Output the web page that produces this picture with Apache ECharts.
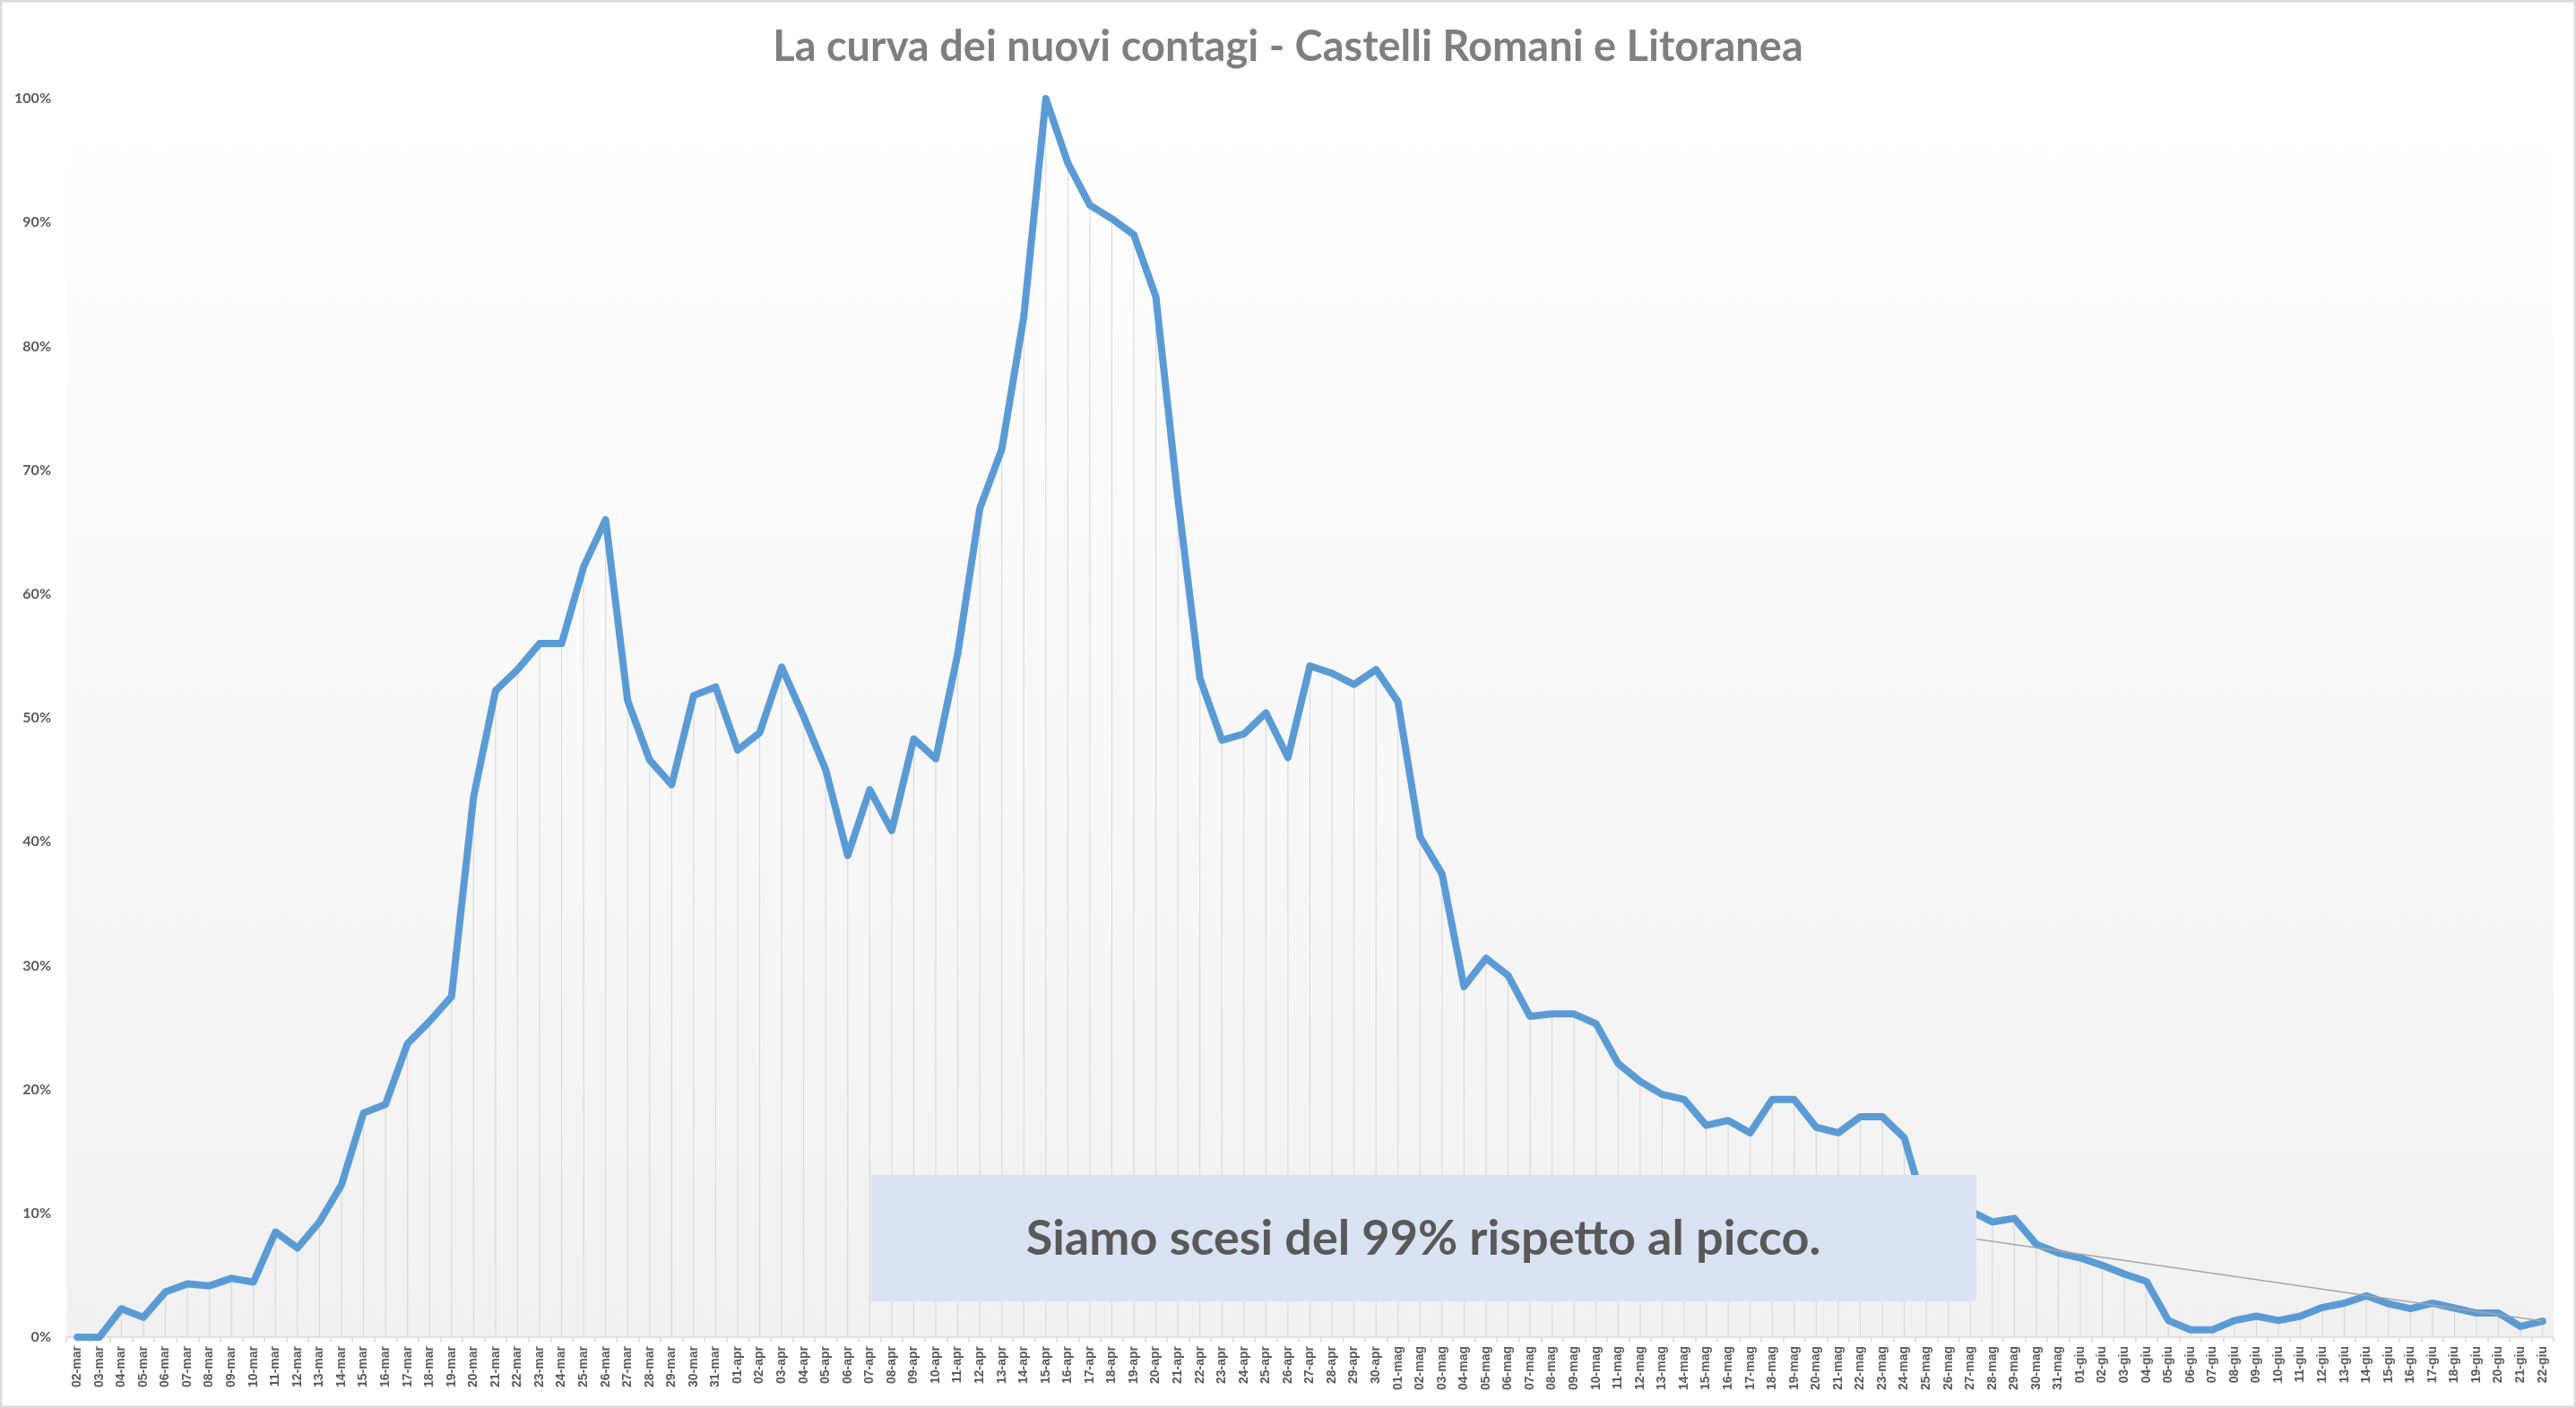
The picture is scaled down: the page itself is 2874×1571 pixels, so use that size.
<!DOCTYPE html>
<html>
<head>
<meta charset="utf-8">
<script src="https://cdn.jsdelivr.net/npm/echarts@6/dist/echarts.min.js"></script>
<style>
  html, body { margin: 0; padding: 0; background: #ffffff; }
  #chart { width: 2874px; height: 1571px; }
</style>
</head>
<body>
<div id="chart"></div>
<script>
const titleText = 'La curva dei nuovi contagi - Castelli Romani e Litoranea';
const noteText = 'Siamo scesi del 99% rispetto al picco.';

const categories = [
  '02-mar','03-mar','04-mar','05-mar','06-mar','07-mar','08-mar','09-mar','10-mar','11-mar',
  '12-mar','13-mar','14-mar','15-mar','16-mar','17-mar','18-mar','19-mar','20-mar','21-mar',
  '22-mar','23-mar','24-mar','25-mar','26-mar','27-mar','28-mar','29-mar','30-mar','31-mar',
  '01-apr','02-apr','03-apr','04-apr','05-apr','06-apr','07-apr','08-apr','09-apr','10-apr',
  '11-apr','12-apr','13-apr','14-apr','15-apr','16-apr','17-apr','18-apr','19-apr','20-apr',
  '21-apr','22-apr','23-apr','24-apr','25-apr','26-apr','27-apr','28-apr','29-apr','30-apr',
  '01-mag','02-mag','03-mag','04-mag','05-mag','06-mag','07-mag','08-mag','09-mag','10-mag',
  '11-mag','12-mag','13-mag','14-mag','15-mag','16-mag','17-mag','18-mag','19-mag','20-mag',
  '21-mag','22-mag','23-mag','24-mag','25-mag','26-mag','27-mag','28-mag','29-mag','30-mag',
  '31-mag',
  '01-giu','02-giu','03-giu','04-giu','05-giu','06-giu','07-giu','08-giu','09-giu','10-giu',
  '11-giu','12-giu','13-giu','14-giu','15-giu','16-giu','17-giu','18-giu','19-giu','20-giu',
  '21-giu','22-giu'
];

const marchValues = [0, 0, 2.3, 1.6, 3.65, 4.3, 4.15, 4.75, 4.45, 8.5,
  7.2, 9.3, 12.3, 18.1, 18.8, 23.7, 25.5, 27.5, 43.6, 52.2,
  53.9, 56.0, 56.0, 62.2, 66.0, 51.4, 46.6, 44.6, 51.8, 52.5];
const aprilValues = [47.4, 48.8, 54.1, 50.1, 45.8, 38.9, 44.2, 40.9, 48.3, 46.7,
  55.2, 66.9, 71.7, 82.4, 100, 94.8, 91.4, 90.3, 89.0, 84.0,
  67.7, 53.2, 48.2, 48.7, 50.4, 46.8, 54.2, 53.6, 52.7, 53.9];
const mayValues = [51.3, 40.4, 37.4, 28.3, 30.6, 29.2, 25.9, 26.1, 26.1, 25.3,
  22.1, 20.65, 19.6, 19.2, 17.1, 17.5, 16.5, 19.2, 19.2, 16.95,
  16.5, 17.8, 17.8, 16.1, 10.0, 10.4, 10.2, 9.3, 9.6, 7.5,
  6.8];
const juneValues = [6.4, 5.8, 5.1, 4.5, 1.35, 0.6, 0.6, 1.35, 1.7, 1.35,
  1.7, 2.4, 2.75, 3.35, 2.7, 2.3, 2.75, 2.35, 1.95, 1.95,
  0.87, 1.3];

const values = marchValues.concat(aprilValues, mayValues, juneValues);

// annotation connector: from the note box to the last point
const connectorStart = ['27-mag', 8.0];
const connectorEnd = ['22-giu', 1.3];

const yMin = 0, yMax = 100, yStep = 10;

const chart = echarts.init(document.getElementById('chart'), null, { renderer: 'canvas' });

const option = {
  backgroundColor: '#ffffff',
  animation: false,
  title: {
    text: titleText,
    left: 'center',
    top: 24,
    textStyle: {
      fontFamily: 'Lato',
      fontWeight: 'bold',
      fontSize: 47,
      color: '#7f7f7f'
    }
  },
  grid: {
    left: 74,
    right: 25,
    top: 110,
    bottom: 79,
    show: true,
    borderWidth: 0,
    backgroundColor: new echarts.graphic.LinearGradient(0, 0, 0, 1, [
      { offset: 0, color: '#ffffff' },
      { offset: 1, color: '#f1f1f1' }
    ])
  },
  xAxis: {
    type: 'category',
    data: categories,
    boundaryGap: true,
    axisLine: { show: true, lineStyle: { color: '#d9d9d9', width: 1.5 } },
    axisTick: { show: true, interval: 0, length: 6, lineStyle: { color: '#d9d9d9', width: 1.5 } },
    axisLabel: {
      interval: 0,
      rotate: 90,
      margin: 10,
      fontFamily: 'Liberation Sans',
      fontWeight: 'bold',
      fontSize: 14,
      color: '#595959'
    },
    splitLine: { show: false }
  },
  yAxis: {
    type: 'value',
    min: yMin,
    max: yMax,
    interval: yStep,
    axisLine: { show: false },
    axisTick: { show: false },
    splitLine: { show: false },
    axisLabel: {
      formatter: '{value}%',
      margin: 17,
      fontFamily: 'Lato',
      fontWeight: 'bold',
      fontSize: 16,
      color: '#595959'
    }
  },
  series: [
    {
      name: 'drop',
      type: 'bar',
      data: values,
      barWidth: 1,
      silent: true,
      itemStyle: { color: '#d6d6d6' },
      z: 1
    },
    {
      name: 'Nuovi contagi',
      type: 'line',
      data: values,
      symbol: 'none',
      z: 3,
      lineStyle: { color: '#5b9bd5', width: 8, cap: 'round', join: 'round' },
      markLine: {
        silent: true,
        symbol: 'none',
        label: { show: false },
        lineStyle: { color: '#a6a6a6', width: 1.5, type: 'solid' },
        data: [[
          { coord: connectorStart },
          { coord: connectorEnd }
        ]]
      }
    }
  ],
  graphic: [
    {
      type: 'rect',
      z: 100,
      shape: { x: 972, y: 1311, width: 1233, height: 141 },
      style: { fill: '#dae3f3' }
    },
    {
      type: 'text',
      z: 101,
      x: 1588,
      y: 1383,
      style: {
        text: noteText,
        fontFamily: 'Lato',
        fontWeight: 'bold',
        fontSize: 54,
        fill: '#595959',
        align: 'center',
        verticalAlign: 'middle'
      }
    },
    {
      type: 'rect',
      z: 102,
      shape: { x: 1, y: 1, width: 2872, height: 1569 },
      style: { fill: 'none', stroke: '#d9d9d9', lineWidth: 3 }
    }
  ]
};

chart.setOption(option);
</script>
</body>
</html>
